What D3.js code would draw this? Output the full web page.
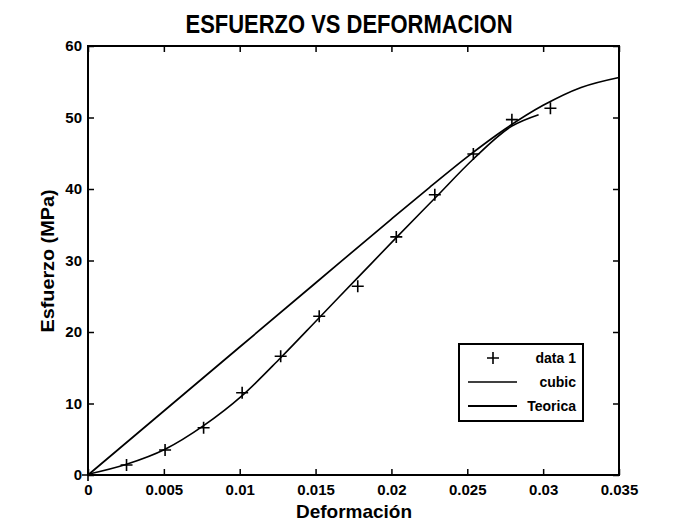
<!DOCTYPE html>
<html>
<head>
<meta charset="utf-8">
<script src="https://cdn.jsdelivr.net/npm/d3@7"></script>
<style>
  body { margin: 0; background: #fff; }
  text { font-family: "Liberation Sans", Arial, sans-serif; font-weight: bold; fill: #000; }
</style>
</head>
<body>
<div id="chart"></div>
<script>
// measured points (+)
var dataX = [0, 0.00254, 0.00508, 0.00762, 0.01016, 0.0127, 0.01524, 0.01778, 0.02032, 0.02286, 0.0254, 0.02794, 0.03048];
var dataY = [0, 1.4, 3.5, 6.6, 11.5, 16.6, 22.2, 26.4, 33.3, 39.2, 44.9, 49.7, 51.3];
// cubic fit
var cubicX = [0, 0.00254, 0.00508, 0.00762, 0.01016, 0.0127, 0.01524, 0.01778, 0.02032, 0.02286, 0.0254, 0.02794, 0.0297];
var cubicY = [0.1, 1.5, 3.6, 6.9, 11.1, 16.4, 22.0, 27.6, 33.2, 38.7, 44.2, 48.8, 50.4];
// theoretical curve
var teoricaX = [0, 0.005, 0.01, 0.015, 0.02, 0.0225, 0.025, 0.0275, 0.03, 0.0325, 0.035];
var teoricaY = [0, 8.95, 17.9, 26.85, 35.8, 40.2, 44.5, 48.4, 51.7, 54.2, 55.6];

var xTicks = [0, 0.005, 0.01, 0.015, 0.02, 0.025, 0.03, 0.035];
var xTickLabels = ["0", "0.005", "0.01", "0.015", "0.02", "0.025", "0.03", "0.035"];
var yTicks = [0, 10, 20, 30, 40, 50, 60];

var W = 673, H = 526;
var margin = {left: 88, right: 54, top: 46, bottom: 51};

var svg = d3.select("#chart").append("svg")
    .attr("width", W)
    .attr("height", H);

var x = d3.scaleLinear().domain([0, 0.035]).range([margin.left, W - margin.right]);
var y = d3.scaleLinear().domain([0, 60]).range([H - margin.bottom, margin.top]);

svg.append("rect").attr("width", W).attr("height", H).attr("fill", "#fff");

// axes, ticks pointing inward like matlab
var xAxis = d3.axisBottom(x).tickValues(xTicks)
    .tickFormat(function(d, i){ return xTickLabels[i]; })
    .tickSizeInner(-6).tickSizeOuter(0).tickPadding(9);
var yAxis = d3.axisLeft(y).tickValues(yTicks)
    .tickSizeInner(-6).tickSizeOuter(0).tickPadding(6);

var gx = svg.append("g").attr("transform", "translate(0," + y(0) + ")").call(xAxis);
var gy = svg.append("g").attr("transform", "translate(" + x(0) + ",0)").call(yAxis);
svg.append("g").attr("transform", "translate(0," + y(60) + ")")
    .call(d3.axisTop(x).tickValues(xTicks).tickSizeInner(-6).tickSizeOuter(0).tickFormat(""));
svg.append("g").attr("transform", "translate(" + x(0.035) + ",0)")
    .call(d3.axisRight(y).tickValues(yTicks).tickSizeInner(-6).tickSizeOuter(0).tickFormat(""));

svg.selectAll(".domain").remove();
svg.selectAll(".tick line").attr("stroke", "#000").attr("stroke-width", 1.5);
gx.selectAll("text").style("font-size", "15px");
gy.selectAll("text").style("font-size", "15px");

// plot frame
svg.append("rect")
    .attr("x", x(0)).attr("y", y(60))
    .attr("width", x(0.035) - x(0)).attr("height", y(0) - y(60))
    .attr("fill", "none").attr("stroke", "#000").attr("stroke-width", 2);

var line = d3.line().x(function(d){ return x(d[0]); }).y(function(d){ return y(d[1]); });

var cubic = cubicX.map(function(v, i){ return [v, cubicY[i]]; });
var teorica = teoricaX.map(function(v, i){ return [v, teoricaY[i]]; });

svg.append("path").datum(teorica)
    .attr("d", line.curve(d3.curveMonotoneX))
    .attr("fill", "none").attr("stroke", "#000").attr("stroke-width", 1.7);
svg.append("path").datum(cubic)
    .attr("d", line.curve(d3.curveMonotoneX))
    .attr("fill", "none").attr("stroke", "#000").attr("stroke-width", 1.6);

function plus(g, cx, cy, s) {
  g.append("path")
    .attr("d", "M" + (cx - s) + "," + cy + "H" + (cx + s) + "M" + cx + "," + (cy - s) + "V" + (cy + s))
    .attr("stroke", "#000").attr("stroke-width", 1.6).attr("fill", "none");
}
var pts = svg.append("g");
dataX.forEach(function(v, i){ plus(pts, x(v), y(dataY[i]), 6); });

// legend
var lg = svg.append("g");
lg.append("rect").attr("x", 459).attr("y", 344).attr("width", 124).attr("height", 77)
    .attr("fill", "#fff").attr("stroke", "#000").attr("stroke-width", 2);
var legendNames = ["data 1", "cubic", "Teorica"];
legendNames.forEach(function(name, i){
  var ly = 358 + i * 24;
  if (i === 0) plus(lg, 493, ly, 6);
  else lg.append("line").attr("x1", 468).attr("x2", 517).attr("y1", ly).attr("y2", ly)
        .attr("stroke", "#000").attr("stroke-width", i === 2 ? 2 : 1.6);
  lg.append("text").attr("x", 576).attr("y", ly + 5).attr("text-anchor", "end")
    .style("font-size", "14px").text(name);
});

// titles
svg.append("text").attr("x", 349).attr("y", 33).attr("text-anchor", "middle")
    .attr("textLength", 327).attr("lengthAdjust", "spacingAndGlyphs")
    .style("font-size", "25px")
    .text("ESFUERZO VS DEFORMACION");
svg.append("text").attr("x", 354).attr("y", 518).attr("text-anchor", "middle")
    .style("font-size", "19px").text("Deformación");
svg.append("text").attr("transform", "translate(54,261) rotate(-90)").attr("text-anchor", "middle")
    .attr("textLength", 143).attr("lengthAdjust", "spacingAndGlyphs")
    .style("font-size", "19px").text("Esfuerzo (MPa)");
</script>
</body>
</html>
